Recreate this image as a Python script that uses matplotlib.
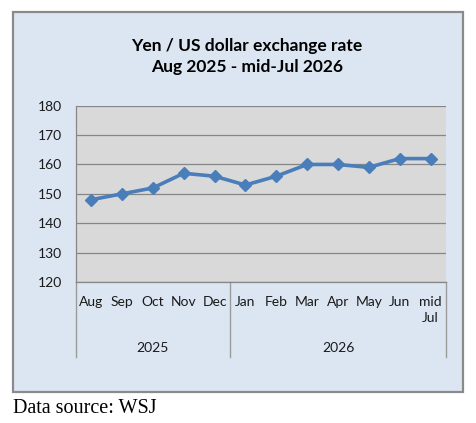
import matplotlib
matplotlib.use("Agg")
import matplotlib.pyplot as plt
from matplotlib.patches import Rectangle
from matplotlib.transforms import blended_transform_factory

months = ["Aug", "Sep", "Oct", "Nov", "Dec", "Jan", "Feb", "Mar", "Apr", "May", "Jun", "mid\nJul"]
rates = [148, 150, 152, 157, 156, 153, 156, 160, 160, 159, 162, 162]
years = ["2025", "2026"]
year_counts = [5, 7]
yticks = [120, 130, 140, 150, 160, 170, 180]
title = "Yen / US dollar exchange rate\nAug 2025 - mid-Jul 2026"
source = "Data source: WSJ"

W, H = 477, 423
fig = plt.figure(figsize=(W / 100, H / 100), dpi=100)
fig.patch.set_facecolor("white")

def fx(px):
    return px / W

def fy(py):
    return 1 - py / H

# outer chart box
fig.patches.append(Rectangle((fx(13), fy(392)), fx(463) - fx(13), fy(12) - fy(392),
                             transform=fig.transFigure, facecolor="#dce6f2",
                             edgecolor="#8a8a8a", linewidth=1.6, zorder=0))

L, R, T, B = 75.7, 446, 105.7, 282
ax = fig.add_axes([fx(L), fy(B), fx(R) - fx(L), fy(T) - fy(B)])
ax.set_facecolor("#d9d9d9")
ax.set_zorder(1)

TXT = "#1a1a1a"
FS = 10

x = list(range(len(months)))
ax.plot(x, rates, color="#4a7ebb", linewidth=2.6, marker="D", markersize=6.5,
        markerfacecolor="#4a7ebb", markeredgecolor="#4a7ebb", zorder=3, clip_on=False)

ax.set_xlim(-0.5, len(months) - 0.5)
ax.set_ylim(120, 180)
ax.set_yticks(yticks)
ax.set_yticklabels([str(v) for v in yticks], fontsize=FS, family="Lato", color=TXT)
ax.tick_params(axis="y", length=0, pad=10)
ax.set_xticks([])
ax.grid(axis="y", color="#868686", linewidth=0.9)
ax.set_axisbelow(True)
for s in ["top", "right"]:
    ax.spines[s].set_visible(False)
ax.spines["left"].set_color("#868686")
ax.spines["bottom"].set_color("#868686")
ax.spines["left"].set_linewidth(0.9)
ax.spines["bottom"].set_linewidth(0.9)

trans = blended_transform_factory(ax.transData, ax.transAxes)
axh = B - T

def ay(py):
    return (B - py) / axh

for xi, m in zip(x, months):
    ax.text(xi, ay(296), m, transform=trans, ha="center", va="top", fontsize=FS,
            family="Lato", color=TXT, multialignment="center", linespacing=1.35)

# group separators and year labels
start = 0
bounds = [-0.5]
for yr, n in zip(years, year_counts):
    center = start + (n - 1) / 2
    ax.text(center, ay(348), yr, transform=trans, ha="center", va="center",
            fontsize=FS, family="Lato", color=TXT)
    start += n
    bounds.append(start - 0.5)
for b in bounds:
    ax.plot([b, b], [0, ay(357)], transform=trans, color="#9a9a9a", linewidth=1.0,
            clip_on=False)

fig.text(fx(247), fy(56.5), title, ha="center", va="center", fontsize=12.5,
         fontweight="bold", family="Lato", color="black", linespacing=1.4)

fig.text(fx(13), fy(413), source, ha="left", va="baseline", fontsize=14.5,
         family="Liberation Serif", color="black")

fig.savefig("out.png", dpi=100)
